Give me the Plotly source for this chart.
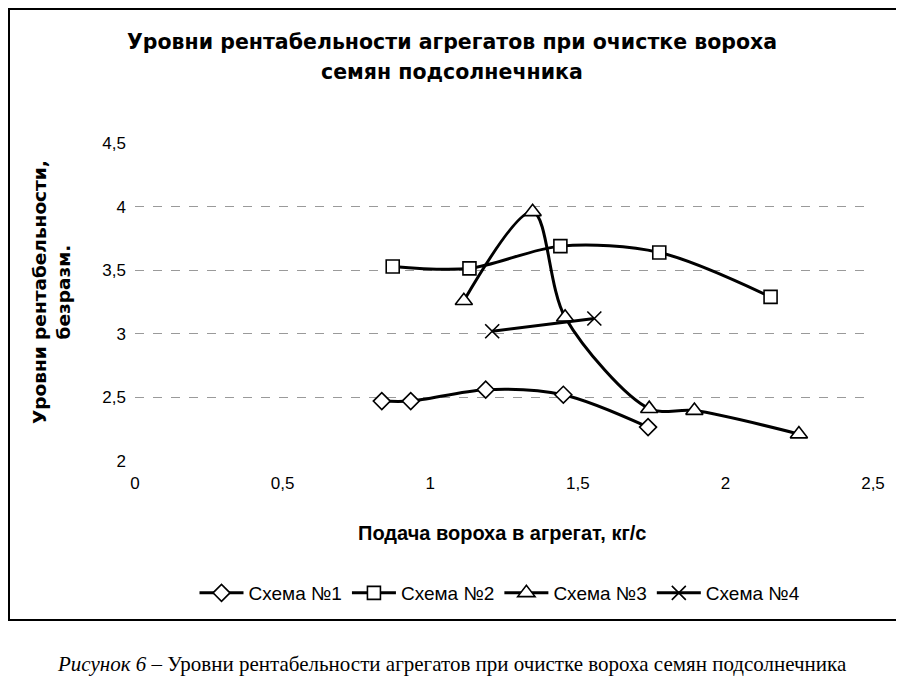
import plotly.graph_objects as go

# Data
s1_x = [0.836, 0.934, 1.188, 1.451, 1.738]
s1_y = [2.47, 2.47, 2.56, 2.52, 2.265]
s2_x = [0.873, 1.133, 1.441, 1.776, 2.153]
s2_y = [3.53, 3.515, 3.69, 3.64, 3.29]
s3_x = [1.114, 1.347, 1.457, 1.742, 1.895, 2.249]
s3_y = [3.26, 3.96, 3.13, 2.41, 2.395, 2.21]
s4_x = [1.21, 1.556]
s4_y = [3.02, 3.12]
names = ["Схема №1", "Схема №2", "Схема №3", "Схема №4"]
x_ticks = [0, 0.5, 1, 1.5, 2, 2.5]
x_tick_labels = ["0", "0,5", "1", "1,5", "2", "2,5"]
y_ticks = [2, 2.5, 3, 3.5, 4, 4.5]
y_tick_labels = ["2", "2,5", "3", "3,5", "4", "4,5"]

series = [
    (s1_x, s1_y, "diamond", 13, "white"),
    (s2_x, s2_y, "square", 13, "white"),
    (s3_x, s3_y, "triangle-up", 15, "white"),
    (s4_x, s4_y, "x-thin", 14, "black"),
]

fig = go.Figure()
for (xs, ys, sym, sz, fc), nm in zip(series, names):
    fig.add_trace(go.Scatter(
        x=xs, y=ys, name=nm, mode="lines+markers",
        line=dict(color="black", width=3, shape="spline", smoothing=0.9),
        marker=dict(symbol=sym, size=sz, color=fc,
                    line=dict(color="black", width=1.6)),
    ))

OFF = 8  # page body margin
W, H = 904 - OFF, 679 - OFF
L, R, T, B = 135 - OFF, 31, 143 - OFF, 218
pw, ph = W - L - R, H - T - B

def px(x):
    return (x - OFF - L) / pw

def py(y):
    return (H - B - (y - OFF)) / ph

fig.update_layout(
    width=W, height=H,
    margin=dict(l=L, r=R, t=T, b=B),
    paper_bgcolor="white", plot_bgcolor="white",
    font=dict(family="Liberation Sans, Arial, sans-serif", color="black", size=17),
    showlegend=True,
    legend=dict(orientation="h", x=px(500), xanchor="center", y=py(593), yanchor="middle",
                font=dict(size=19), itemwidth=44, tracegroupgap=0),
    xaxis=dict(range=[0, 2.5], tickvals=x_ticks, ticktext=x_tick_labels,
               showgrid=False, zeroline=False, showline=False, ticks="",
               tickfont=dict(size=17), ticklabelstandoff=10),
    yaxis=dict(range=[1.998, 4.502], tickvals=y_ticks, ticktext=y_tick_labels,
               showgrid=True, gridcolor="#9a9a9a", griddash="dash", gridwidth=1,
               zeroline=False, showline=False, ticks="",
               tickfont=dict(size=17), ticklabelstandoff=8),
)

annos = [
    dict(text="<b>Уровни рентабельности агрегатов при очистке вороха</b>",
         x=px(452), y=py(42), font=dict(size=20.5, family="DejaVu Sans, sans-serif")),
    dict(text="<b>семян подсолнечника</b>", x=px(452), y=py(72),
         font=dict(size=20.5, family="DejaVu Sans, sans-serif")),
    dict(text="<b>Подача вороха в агрегат, кг/с</b>", x=px(502), y=py(533),
         font=dict(size=20)),
    dict(text="<b>Уровни рентабельности,<br>безразм.</b>", x=px(51), y=py(292),
         textangle=-90, font=dict(size=18.5, family="DejaVu Sans, sans-serif")),
    dict(text="<i>Рисунок 6</i> – Уровни рентабельности агрегатов при очистке вороха семян подсолнечника",
         x=px(452), y=py(664), font=dict(size=21, family="Liberation Serif, Times New Roman, serif")),
]
for a in annos:
    fig.add_annotation(xref="paper", yref="paper", showarrow=False,
                       xanchor="center", yanchor="middle", **a)

fig.add_shape(type="rect", xref="paper", yref="paper",
              x0=px(OFF + 1), x1=px(899), y0=py(620), y1=py(9),
              line=dict(color="black", width=2), fillcolor="rgba(0,0,0,0)", layer="below")

fig.write_html("out.html")
